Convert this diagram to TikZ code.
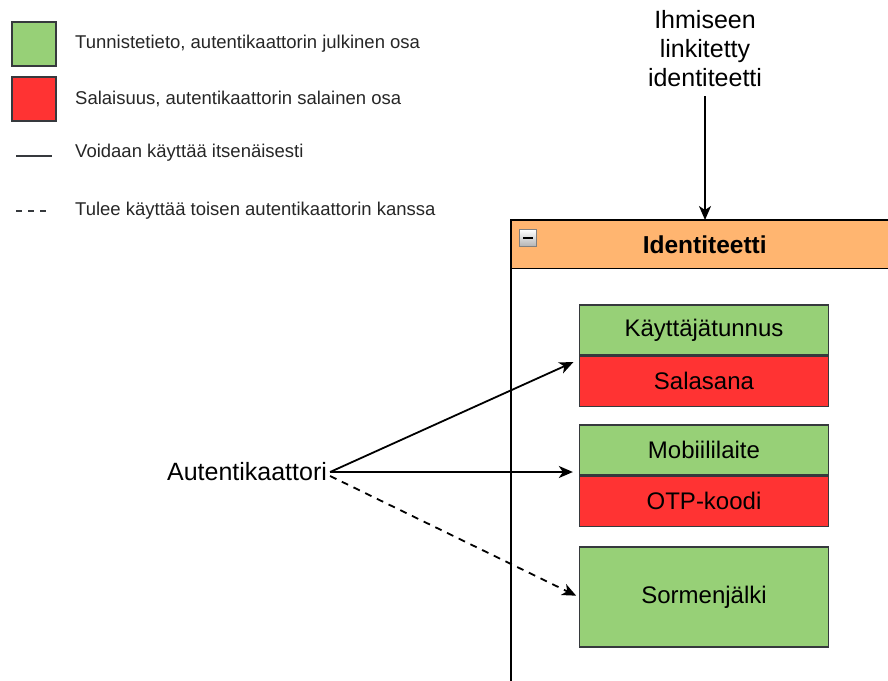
\documentclass[tikz,border=0pt]{standalone}
\usepackage{fontspec}
\setmainfont{Liberation Sans}
\usetikzlibrary{arrows.meta, positioning}

\definecolor{tunnGreen}{HTML}{97D077}
\definecolor{salaRed}{HTML}{FF3333}
\definecolor{headOrange}{HTML}{FFB570}
\definecolor{edgeGray}{HTML}{36393D}

\begin{document}
\begin{tikzpicture}[x=1pt, y=-1pt, node distance=0pt, auto]
\tikzset{
    partbox/.style={rectangle, draw=edgeGray, line width=1.3pt, minimum width=249pt, minimum height=50pt, inner sep=0pt, text centered, font=\fontsize{24}{28}\selectfont},
    pubbox/.style={partbox, fill=tunnGreen},
    secbox/.style={partbox, fill=salaRed},
    legbox/.style={rectangle, draw=edgeGray, line width=2pt, minimum size=44pt, inner sep=0pt},
    legtext/.style={anchor=west, inner sep=0pt, font=\fontsize{18.5}{22}\selectfont, text=black!85},
    myarrow/.style={-{Stealth[length=14pt, width=12pt, inset=4pt]}, line width=1.8pt}
}
\useasboundingbox (0,0) rectangle (888,680);
\clip (0,0) rectangle (888,680);

% legend
\node[legbox, fill=tunnGreen] (leg_pub) at (33.5,43.5) {};
\node[legbox, fill=salaRed] (leg_sec) at (33.5,98.5) {};
\node[legtext] (leg_pub_txt) at (75,44) {Tunnistetieto, autentikaattorin julkinen osa};
\node[legtext] (leg_sec_txt) at (75,99) {Salaisuus, autentikaattorin salainen osa};
\node[legtext] (leg_solid_txt) at (75,153) {Voidaan käyttää itsenäisesti};
\node[legtext] (leg_dash_txt) at (75,211) {Tulee käyttää toisen autentikaattorin kanssa};
\coordinate (solid_a) at (16,156);
\coordinate (solid_b) at (52,156);
\coordinate (dash_a) at (16,211);
\coordinate (dash_b) at (48,211);
\draw[line width=1.8pt, edgeGray] (solid_a) -- (solid_b);
\draw[line width=1.8pt, edgeGray, dash pattern=on 6pt off 6pt] (dash_a) -- (dash_b);

% identity container
\draw[line width=1.4pt, fill=white] (511,220) rectangle (897,700);
\node[rectangle, draw=black, line width=1.4pt, fill=headOrange, anchor=north west, minimum width=386pt, minimum height=48pt, font=\fontsize{24.5}{28}\selectfont\bfseries] (ident) at (511,220) {Identiteetti};
\node[rectangle, draw=gray, top color=white, bottom color=gray!60, minimum size=17pt, inner sep=0pt] (minus) at (528,238) {};
\draw[line width=2pt] ([xshift=-5pt]minus.center) -- ([xshift=5pt]minus.center);

% authenticator parts
\node[pubbox] (kayttaja) at (704,330) {Käyttäjätunnus};
\node[secbox, below=of kayttaja] (salasana) {Salasana};
\node[pubbox] (mobiili) at (704,450) {Mobiililaite};
\node[secbox, below=of mobiili] (otp) {OTP-koodi};
\node[pubbox, minimum height=100pt] (sormi) at (704,597) {Sormenjälki};

% labels
\node[font=\fontsize{25}{29}\selectfont, inner sep=3pt] (auth) at (247,472) {Autentikaattori};
\node[font=\fontsize{25}{29}\selectfont, align=center, inner sep=2pt] (human) at (705,49) {Ihmiseen\\linkitetty\\identiteetti};

% connectors
\draw[myarrow, shorten <=7pt] (human.south) -- (ident.north -| human.south);
\draw[myarrow, shorten >=6pt] (auth.east) -- ([yshift=-4pt]salasana.north west);
\draw[myarrow, shorten >=6pt] (auth.east) -- (auth.east -| mobiili.west);
\draw[myarrow, dashed, dash pattern=on 7pt off 6pt, shorten >=3pt] ([yshift=-4pt]auth.east) -- (sormi.west);
\end{tikzpicture}
\end{document}
